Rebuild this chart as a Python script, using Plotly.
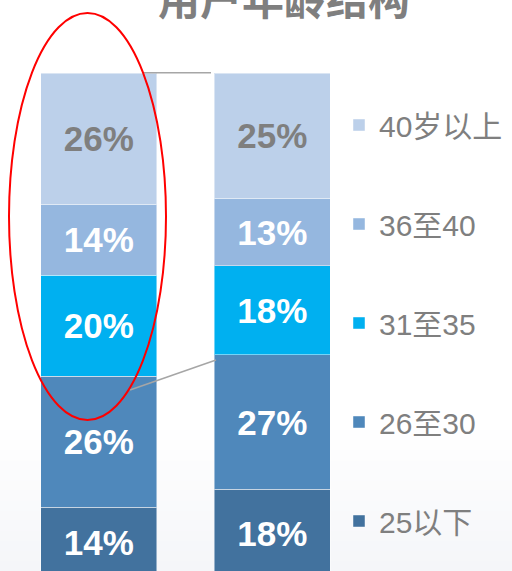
import plotly.graph_objects as go

# ---- data ----
groups = ["A", "B"]
x_pos = [0, 1]
series_names = ["25以下", "26至30", "31至35", "36至40", "40岁以上"]
values_a = [14, 26, 20, 14, 26]
values_b = [17.6, 26.6, 17.6, 13.4, 24.8]
series_colors = ["#42729E", "#4F88BB", "#00B0F0", "#95B7DF", "#BCD0EA"]
text_colors = ["#FFFFFF", "#FFFFFF", "#FFFFFF", "#FFFFFF", "#7F7F7F"]
title_text = "用户年龄结构"

W, H = 512, 571
ML, MR, MT, MB = 12, 153, 73, 0
PW, PH = W - ML - MR, H - MT - MB


def px(xp):
    return (xp - ML) / PW


def py(yp):
    return (H - MB - yp) / PH


fig = go.Figure()
n = len(series_names)
for i, name in enumerate(series_names):
    fig.add_trace(go.Bar(
        x=x_pos,
        y=[values_a[i], values_b[i]],
        name=name,
        width=0.67,
        marker=dict(color=series_colors[i],
                    line=dict(color="rgba(255,255,255,0.45)", width=1)),
        texttemplate="%{y:.0f}%",
        textposition="inside",
        insidetextanchor="middle",
        constraintext="none",
        textfont=dict(family="Liberation Sans", size=35, color=text_colors[i], weight="bold"),
        legendgroup=name,
        legendrank=(n - i) * 100,
        showlegend=True,
    ))

shapes = []
# soft gradient at the bottom of the background
g0, g1 = 430, H
nb = 14
for k in range(nb):
    t = (k + 1) / nb
    r = int(round(255 - (255 - 245) * t))
    g = int(round(255 - (255 - 246) * t))
    b = int(round(255 - (255 - 249) * t))
    ya = g0 + (g1 - g0) * k / nb
    yb = g0 + (g1 - g0) * (k + 1) / nb + 1
    shapes.append(dict(type="rect", xref="paper", yref="paper",
                       x0=px(0), x1=px(W), y0=py(yb), y1=py(ya),
                       fillcolor=f"rgb({r},{g},{b})", line=dict(width=0), layer="below"))

# connector lines
shapes.append(dict(type="line", xref="paper", yref="paper",
                   x0=px(143), x1=px(211), y0=py(72.7), y1=py(72.7),
                   line=dict(color="#A6A6A6", width=1.5), layer="above"))
shapes.append(dict(type="line", xref="paper", yref="paper",
                   x0=px(130), x1=px(216), y0=py(390), y1=py(360),
                   line=dict(color="#A6A6A6", width=1.5), layer="above"))
# red ellipse
shapes.append(dict(type="circle", xref="paper", yref="paper",
                   x0=px(9), x1=px(166), y0=py(420), y1=py(13),
                   line=dict(color="#FF0000", width=2), fillcolor="rgba(0,0,0,0)",
                   layer="above"))

fig.update_layout(
    width=W, height=H,
    margin=dict(l=ML, r=MR, t=MT, b=MB, pad=0),
    barmode="stack",
    paper_bgcolor="#FFFFFF",
    plot_bgcolor="rgba(0,0,0,0)",
    showlegend=True,
    legend=dict(
        traceorder="grouped",
        tracegroupgap=57,
        font=dict(family="Liberation Sans, Noto Sans CJK SC", size=30, color="#7F7F7F"),
        x=px(339), xanchor="left",
        y=py(99), yanchor="top",
        bgcolor="rgba(0,0,0,0)",
        itemclick=False,
    ),
    xaxis=dict(range=[-0.5, 1.5], visible=False, fixedrange=True),
    yaxis=dict(range=[1.4, 100], visible=False, fixedrange=True),
    shapes=shapes,
    annotations=[dict(
        text=f"<b>{title_text}</b>", xref="paper", yref="paper",
        x=px(284), y=py(-4), xanchor="center", yanchor="middle",
        showarrow=False,
        font=dict(family="Noto Sans CJK SC", size=42, color="#7F7F7F"),
    )],
)

fig.write_html(
    "out.html",
    config={"displayModeBar": False},
    post_script="document.body.style.margin='0';document.body.style.overflow='hidden';",
)
